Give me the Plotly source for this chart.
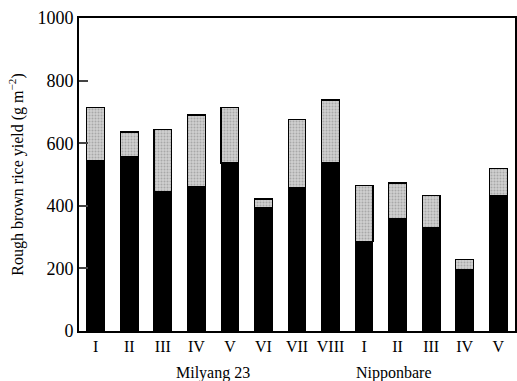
import plotly.graph_objects as go

categories = ["I", "II", "III", "IV", "V", "VI", "VII", "VIII", "I ", "II ", "III ", "IV ", "V "]
tick_labels = ["I", "II", "III", "IV", "V", "VI", "VII", "VIII", "I", "II", "III", "IV", "V"]
lower_values = [545, 556, 445, 460, 537, 393, 457, 537, 285, 358, 329, 196, 433]
total_values = [715, 636, 645, 690, 715, 422, 677, 738, 465, 473, 433, 228, 518]
upper_values = [t - l for t, l in zip(total_values, lower_values)]
group_labels = ["Milyang 23", "Nipponbare"]

x = list(range(len(categories)))
font = "Liberation Serif, DejaVu Serif, serif"

fig = go.Figure()
fig.add_trace(go.Bar(x=x, y=lower_values, marker=dict(color="black", line=dict(color="black", width=1)),
                     width=0.53, showlegend=False))
fig.add_trace(go.Bar(x=x, y=upper_values, marker=dict(color="#c4c4c4", line=dict(color="black", width=1.2),
                     pattern=dict(shape=".", fgcolor="#808080", bgcolor="#d0d0d0", size=3, solidity=0.35)),
                     width=0.53, showlegend=False))

fig.update_layout(
    barmode="stack",
    width=517, height=381,
    margin=dict(l=79, r=2, t=18, b=50, autoexpand=False),
    paper_bgcolor="white", plot_bgcolor="white",
    font=dict(family=font, color="black", size=15),
    xaxis=dict(range=[-0.5, 12.5], tickvals=x, ticktext=tick_labels, showline=True, linecolor="black",
               linewidth=2, mirror=True, ticks="", showgrid=False, zeroline=False,
               tickfont=dict(size=16)),
    yaxis=dict(range=[0, 1000], tickvals=[0, 200, 400, 600, 800, 1000], showline=True, linecolor="black",
               linewidth=2, mirror=True, ticks="inside", ticklen=9, tickwidth=2, showgrid=False,
               zeroline=False, tickfont=dict(size=18),
               title=dict(text="Rough brown rice yield (g m<sup>−2</sup>)", font=dict(size=16), standoff=10)),
    annotations=[
        dict(x=3.5, y=0, xref="x", yref="paper", yshift=-31, text=group_labels[0], showarrow=False,
             font=dict(size=16), yanchor="top"),
        dict(x=8.9, y=0, xref="x", yref="paper", yshift=-31, text=group_labels[1], showarrow=False,
             font=dict(size=16), yanchor="top"),
    ],
)

fig.write_html("out.html", config={"displayModeBar": False},
               post_script="document.body.style.margin='0';document.body.style.overflow='hidden';")
